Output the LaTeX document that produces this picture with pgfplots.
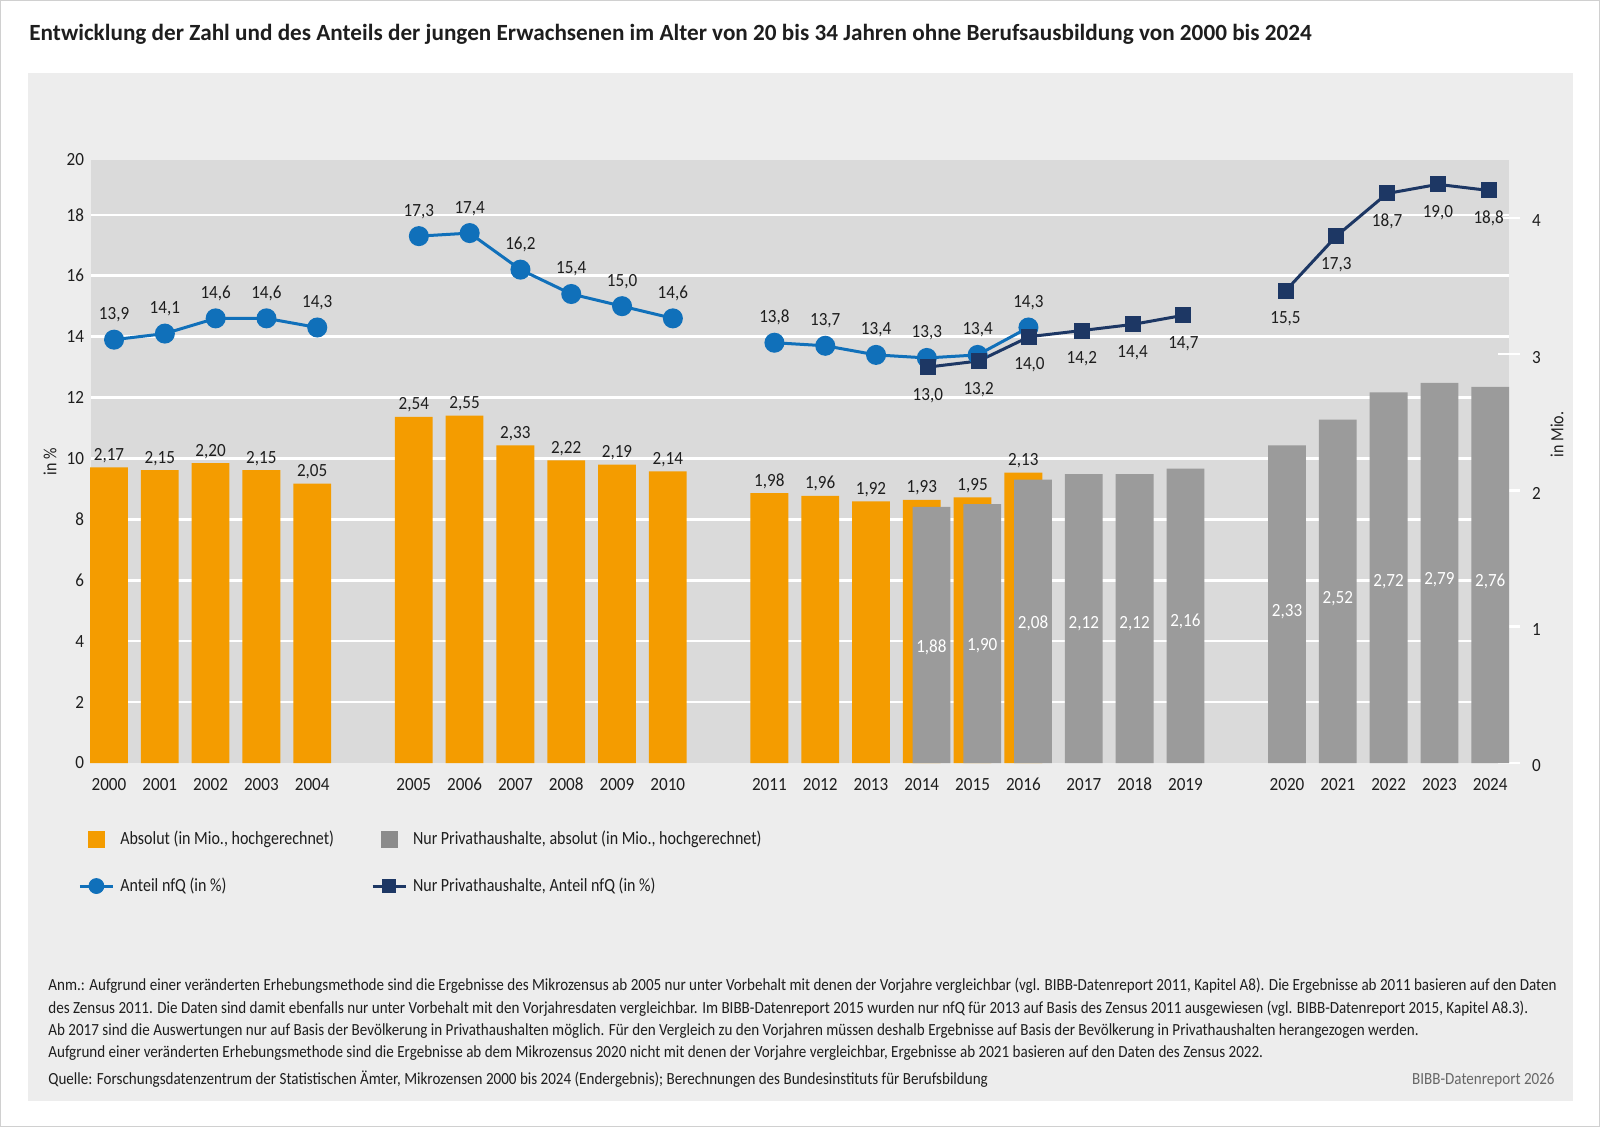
\documentclass[border=0pt]{standalone}
\usepackage{fontspec}
\setmainfont{Carlito}[FakeStretch=0.86]
\newfontfamily\numfont{Carlito}[FakeStretch=0.92]
\newfontfamily\notefont{Carlito}[FakeStretch=0.887]
\newfontfamily\titlefont{Carlito}
\usepackage{pgfplots}
\pgfplotsset{compat=1.18}
\definecolor{panel}{HTML}{EDEDED}
\definecolor{plotbg}{HTML}{DADADA}
\definecolor{orangeC}{HTML}{F49C00}
\definecolor{grayC}{HTML}{9B9B9B}
\definecolor{bluC}{HTML}{1070BA}
\definecolor{navyC}{HTML}{1D3764}
\definecolor{txt}{HTML}{1E1E1E}
\definecolor{framegray}{HTML}{D0D0D0}
\pgfplotsset{
  /pgf/number format/assume math mode=true,
  base/.style={
    width=709pt, height=301.5pt, scale only axis,
    at={(45.5pt,-381.5pt)}, anchor=south west,
    xmin=-0.354, xmax=27.56,
    axis line style={draw=none},
    major tick length=0pt,
    clip=false,
    ticklabel style={font=\numfont\fontsize{9.3}{11}\selectfont, text=txt},
    label style={font=\fontsize{9.3}{11}\selectfont, text=txt},
  },
}
\begin{document}
\begin{tikzpicture}
\path[use as bounding box] (0,0) rectangle (800pt,-563.5pt);
\fill[white] (0,0) rectangle (800pt,-563.5pt);
\draw[framegray, line width=0.6pt] (0.3pt,-0.3pt) rectangle (799.7pt,-563.2pt);
\fill[panel] (14pt,-36.5pt) rectangle (786.5pt,-550.5pt);
\node[anchor=base west, inner sep=0pt, text=txt, font=\titlefont\bfseries\fontsize{11.6}{13}\selectfont] at (14.5pt,-20.3pt)
  {Entwicklung der Zahl und des Anteils der jungen Erwachsenen im Alter von 20 bis 34 Jahren ohne Berufsausbildung von 2000 bis 2024};

% axis 1: background, grid, left and x tick labels
\begin{axis}[base,
  ymin=0, ymax=19.8,
  axis background/.style={fill=plotbg},
  ytick={2,4,...,18},
  extra y ticks={0,19.8}, extra y tick labels={0,20},
  extra y tick style={grid=none},
  ymajorgrids, major grid style={white, line width=1.3pt},
  ytick pos=left, xtick pos=bottom,
  xtick={0,1,2,3,4,6,7,8,9,10,11,13,14,15,16,17,18,19.19,20.19,21.19,23.19,24.19,25.19,26.19,27.19},
  xticklabels={2000,2001,2002,2003,2004,2005,2006,2007,2008,2009,2010,2011,2012,2013,2014,2015,2016,2017,2018,2019,2020,2021,2022,2023,2024},
  xticklabel style={yshift=-4pt},
  ylabel={in \%},
  ylabel style={at={(rel axis cs:0,0.5)}, anchor=center, yshift=20.5pt},
]
\end{axis}

% axis 2: bars, right axis in Mio.
\begin{axis}[base,
  ymin=0, ymax=4.425,
  ytick={0,1,2,3,4}, ytick pos=right, yticklabel pos=right,
  xtick=\empty,
  major tick length=11pt, tick align=center,
  major tick style={draw=white, line width=1.3pt},
  yticklabel style={xshift=2.5pt, yshift=-1.5pt},
  ylabel={in Mio.},
  ylabel style={at={(rel axis cs:1,0.545)}, anchor=center, yshift=-24pt},
]
\addplot[ybar, bar width=18.9pt, bar shift=0pt, fill=orangeC, draw=none,
  nodes near coords={\pgfmathprintnumber[fixed,fixed zerofill,precision=2,use comma]{\pgfplotspointmeta}}, point meta=y,
  every node near coord/.append style={font=\numfont\fontsize{9.3}{11}\selectfont, text=txt, inner sep=0pt, anchor=base, yshift=3.5pt}]
coordinates {(0,2.17)(1,2.15)(2,2.20)(3,2.15)(4,2.05)(6,2.54)(7,2.55)(8,2.33)(9,2.22)(10,2.19)(11,2.14)(13,1.98)(14,1.96)(15,1.92)(16,1.93)(17,1.95)(18,2.13)};
\addplot[ybar, bar width=18.9pt, bar shift=0pt, fill=grayC, draw=none]
coordinates {(16.19,1.88)(17.19,1.90)(18.19,2.08)(19.19,2.12)(20.19,2.12)(21.19,2.16)(23.19,2.33)(24.19,2.52)(25.19,2.72)(26.19,2.79)(27.19,2.76)};
\addplot[draw=none, mark=none,
  nodes near coords={\pgfmathprintnumber[fixed,fixed zerofill,precision=2,use comma]{\pgfplotspointmeta}}, point meta=explicit,
  every node near coord/.append style={font=\numfont\fontsize{9.3}{11}\selectfont, text=white, inner sep=0pt, anchor=base, yshift=-6pt}]
coordinates {(16.19,0.90)[1.88] (17.19,0.915)[1.90] (18.19,1.075)[2.08] (19.19,1.075)[2.12] (20.19,1.075)[2.12] (21.19,1.09)[2.16] (23.19,1.165)[2.33] (24.19,1.26)[2.52] (25.19,1.38)[2.72] (26.19,1.395)[2.79] (27.19,1.38)[2.76]};
\end{axis}

% axis 3: lines
\begin{axis}[base,
  ymin=0, ymax=19.8, hide axis,
  legend columns=2,
  legend cell align=left,
  legend style={draw=none, fill=none, inner sep=0pt, column sep=0pt, row sep=14.5pt,
    at={(axis description cs:-0.00917,-0.1105)}, anchor=north west,
    font=\fontsize{9.3}{11}\selectfont, text=txt,
    nodes={inner ysep=0pt, inner xsep=3pt, text height=7pt, text depth=2pt},
    /tikz/column 2/.style={column sep=15.5pt}},
  blueline/.style={bluC, line width=1.5pt, mark=*, mark size=4.25pt,
    nodes near coords={\pgfmathprintnumber[fixed,fixed zerofill,precision=1,use comma]{\pgfplotspointmeta}}, point meta=y,
    every node near coord/.append style={font=\numfont\fontsize{9.3}{11}\selectfont, text=txt, inner sep=0pt, anchor=base, yshift=10pt}},
  navyline/.style={navyC, line width=1.5pt, mark=square*, mark size=3.25pt,
    nodes near coords={\pgfmathprintnumber[fixed,fixed zerofill,precision=1,use comma]{\pgfplotspointmeta}}, point meta=y,
    every node near coord/.append style={font=\numfont\fontsize{9.3}{11}\selectfont, text=txt, inner sep=0pt, anchor=base, yshift=-16.5pt}},
]
\addlegendimage{legend image code/.code={\path[draw=none] (0pt,0pt) -- (16.5pt,0pt); \fill[orangeC] (4.5pt,-4pt) rectangle (12.5pt,4pt);}}
\addlegendentry{Absolut (in Mio., hochgerechnet)}
\addlegendimage{legend image code/.code={\path[draw=none] (0pt,0pt) -- (16.5pt,0pt); \fill[grayC!90!black] (4.5pt,-4pt) rectangle (12.5pt,4pt);}}
\addlegendentry{Nur Privathaushalte, absolut (in Mio., hochgerechnet)}
\addlegendimage{legend image code/.code={\draw[bluC, line width=1.5pt] (0pt,0pt) -- (16.5pt,0pt); \fill[bluC] (8.25pt,0pt) circle (3.75pt);}}
\addlegendentry{Anteil nfQ (in \%)}
\addlegendimage{legend image code/.code={\draw[navyC, line width=1.5pt] (0pt,0pt) -- (16.5pt,0pt); \fill[navyC] (5pt,-3.25pt) rectangle (11.5pt,3.25pt);}}
\addlegendentry{Nur Privathaushalte, Anteil nfQ (in \%)}

\addplot[blueline, forget plot] coordinates {(0.1,13.9)(1.1,14.1)(2.1,14.6)(3.1,14.6)(4.1,14.3)};
\addplot[blueline, forget plot] coordinates {(6.1,17.3)(7.1,17.4)(8.1,16.2)(9.1,15.4)(10.1,15.0)(11.1,14.6)};
\addplot[blueline, forget plot] coordinates {(13.1,13.8)(14.1,13.7)(15.1,13.4)(16.1,13.3)(17.1,13.4)(18.1,14.3)};
\addplot[navyline, forget plot] coordinates {(16.12,13.0)(17.12,13.2)(18.12,14.0)(19.15,14.2)(20.15,14.4)(21.15,14.7)};
\addplot[navyline, forget plot] coordinates {(23.16,15.5)(24.16,17.3)(25.16,18.7)(26.16,19.0)(27.16,18.8)};
\end{axis}

\begin{scope}[every node/.style={anchor=base west, inner sep=0pt, text=txt, font=\notefont\fontsize{8.5}{10}\selectfont}]
\node at (24pt,-495.2pt) {Anm.: Aufgrund einer veränderten Erhebungsmethode sind die Ergebnisse des Mikrozensus ab 2005 nur unter Vorbehalt mit denen der Vorjahre vergleichbar (vgl. BIBB-Datenreport 2011, Kapitel A8). Die Ergebnisse ab 2011 basieren auf den Daten};
\node at (24pt,-506.5pt) {des Zensus 2011. Die Daten sind damit ebenfalls nur unter Vorbehalt mit den Vorjahresdaten vergleichbar. Im BIBB-Datenreport 2015 wurden nur nfQ für 2013 auf Basis des Zensus 2011 ausgewiesen (vgl. BIBB-Datenreport 2015, Kapitel A8.3).};
\node at (24pt,-517.7pt) {Ab 2017 sind die Auswertungen nur auf Basis der Bevölkerung in Privathaushalten möglich. Für den Vergleich zu den Vorjahren müssen deshalb Ergebnisse auf Basis der Bevölkerung in Privathaushalten herangezogen werden.};
\node at (24pt,-528.7pt) {Aufgrund einer veränderten Erhebungsmethode sind die Ergebnisse ab dem Mikrozensus 2020 nicht mit denen der Vorjahre vergleichbar, Ergebnisse ab 2021 basieren auf den Daten des Zensus 2022.};
\node at (24pt,-542pt) {Quelle: Forschungsdatenzentrum der Statistischen Ämter, Mikrozensen 2000 bis 2024 (Endergebnis); Berechnungen des Bundesinstituts für Berufsbildung};
\node[anchor=base east, text=black!60] at (777.5pt,-542.2pt) {BIBB-Datenreport 2026};
\end{scope}
\end{tikzpicture}
\end{document}
